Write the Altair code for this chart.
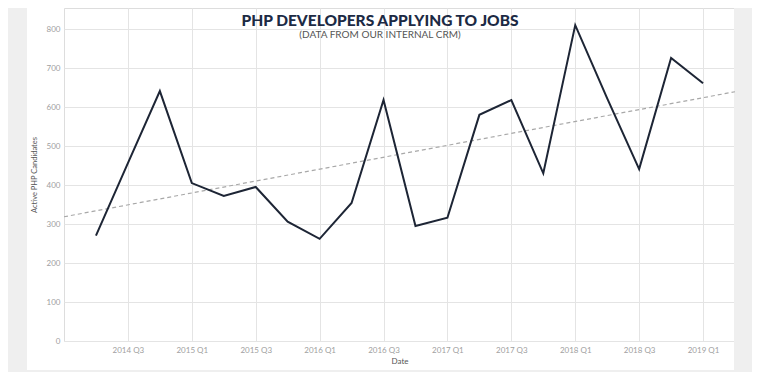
import altair as alt
import pandas as pd

# ---- data ----
quarters = ["2014 Q2", "2014 Q3", "2014 Q4", "2015 Q1", "2015 Q2", "2015 Q3", "2015 Q4",
            "2016 Q1", "2016 Q2", "2016 Q3", "2016 Q4", "2017 Q1", "2017 Q2", "2017 Q3",
            "2017 Q4", "2018 Q1", "2018 Q2", "2018 Q3", "2018 Q4", "2019 Q1"]
candidates = [270, 456, 641, 405, 372, 395, 306, 262, 354, 618, 295, 316, 580, 618,
              430, 810, 622, 441, 726, 661]
tick_labels = ["2014 Q3", "2015 Q1", "2015 Q3", "2016 Q1", "2016 Q3",
               "2017 Q1", "2017 Q3", "2018 Q1", "2018 Q3", "2019 Q1"]
y_ticks = [0, 100, 200, 300, 400, 500, 600, 700, 800]

title_text = "PHP DEVELOPERS APPLYING TO JOBS"
subtitle_text = "(DATA FROM OUR INTERNAL CRM)"

df = pd.DataFrame({"idx": list(range(len(quarters))), "quarter": quarters, "value": candidates})

W, H = 671, 333
tick_idx = [2 * i + 1 for i in range(len(tick_labels))]
label_arr = "[" + ",".join("'" + t + "'" for t in tick_labels) + "]"

x_enc = alt.X("idx:Q", scale=alt.Scale(domain=[-1, 20], nice=False, zero=False),
              axis=alt.Axis(values=tick_idx, labelExpr=label_arr + "[(datum.value-1)/2]",
                            title="Date", grid=True, gridColor="#e4e4e4", domain=False,
                            ticks=False, labelColor="#a0a0a0", labelFont="Lato",
                            labelFontSize=8, labelPadding=5, titleFont="Lato",
                            titleFontSize=8, titleFontWeight="normal", titleColor="#555555",
                            titlePadding=3))
y_enc = alt.Y("value:Q", scale=alt.Scale(domain=[0, 854], nice=False),
              axis=alt.Axis(values=y_ticks, title="Active PHP Candidates", grid=True,
                            gridColor="#e4e4e4", domain=False, ticks=False,
                            labelColor="#a0a0a0", labelFont="Lato", labelFontSize=8,
                            labelPadding=4, titleFont="Lato", titleFontSize=7.5,
                            titleFontWeight="normal", titleColor="#555555", titlePadding=8))

base = alt.Chart(df)

line = base.mark_line(color="#1d2535", strokeWidth=2).encode(x=x_enc, y=y_enc)

trend = base.transform_regression("idx", "value", extent=[-1, 20]).mark_line(
    color="#a8a8a8", strokeWidth=1.2, strokeDash=[4, 3]
).encode(x="idx:Q", y="value:Q")

one = pd.DataFrame({"k": [0]})
gray = "#efefef"
frame_left = alt.Chart(one).mark_rect(color=gray).encode(
    x=alt.value(-56), x2=alt.value(-37), y=alt.value(0), y2=alt.value(364))
frame_right = alt.Chart(one).mark_rect(color=gray).encode(
    x=alt.value(W - 1), x2=alt.value(W + 17), y=alt.value(0), y2=alt.value(364))
frame_bottom = alt.Chart(one).mark_rect(color=gray).encode(
    x=alt.value(-56), x2=alt.value(W + 17), y=alt.value(362), y2=alt.value(364))

title_df = pd.DataFrame({"t": [title_text]})
sub_df = pd.DataFrame({"t": [subtitle_text]})
title = alt.Chart(title_df).mark_text(
    font="Lato", fontSize=15.5, fontWeight=900, color="#1c2a44", baseline="middle", align="center"
).encode(text="t:N", x=alt.value(316), y=alt.value(13))
subtitle = alt.Chart(sub_df).mark_text(
    font="Lato", fontSize=10, color="#555555", baseline="middle", align="center"
).encode(text="t:N", x=alt.value(316), y=alt.value(27))

chart = alt.layer(frame_left, frame_right, frame_bottom, trend, line, title, subtitle).properties(
    width=W, height=H,
    autosize=alt.AutoSizeParams(type="none"),
    padding={"left": 56, "top": 0, "right": 17, "bottom": 31},
).configure_view(stroke=None).configure(background="white")

chart.save("out.html", embed_options={"renderer": "svg", "actions": False})
